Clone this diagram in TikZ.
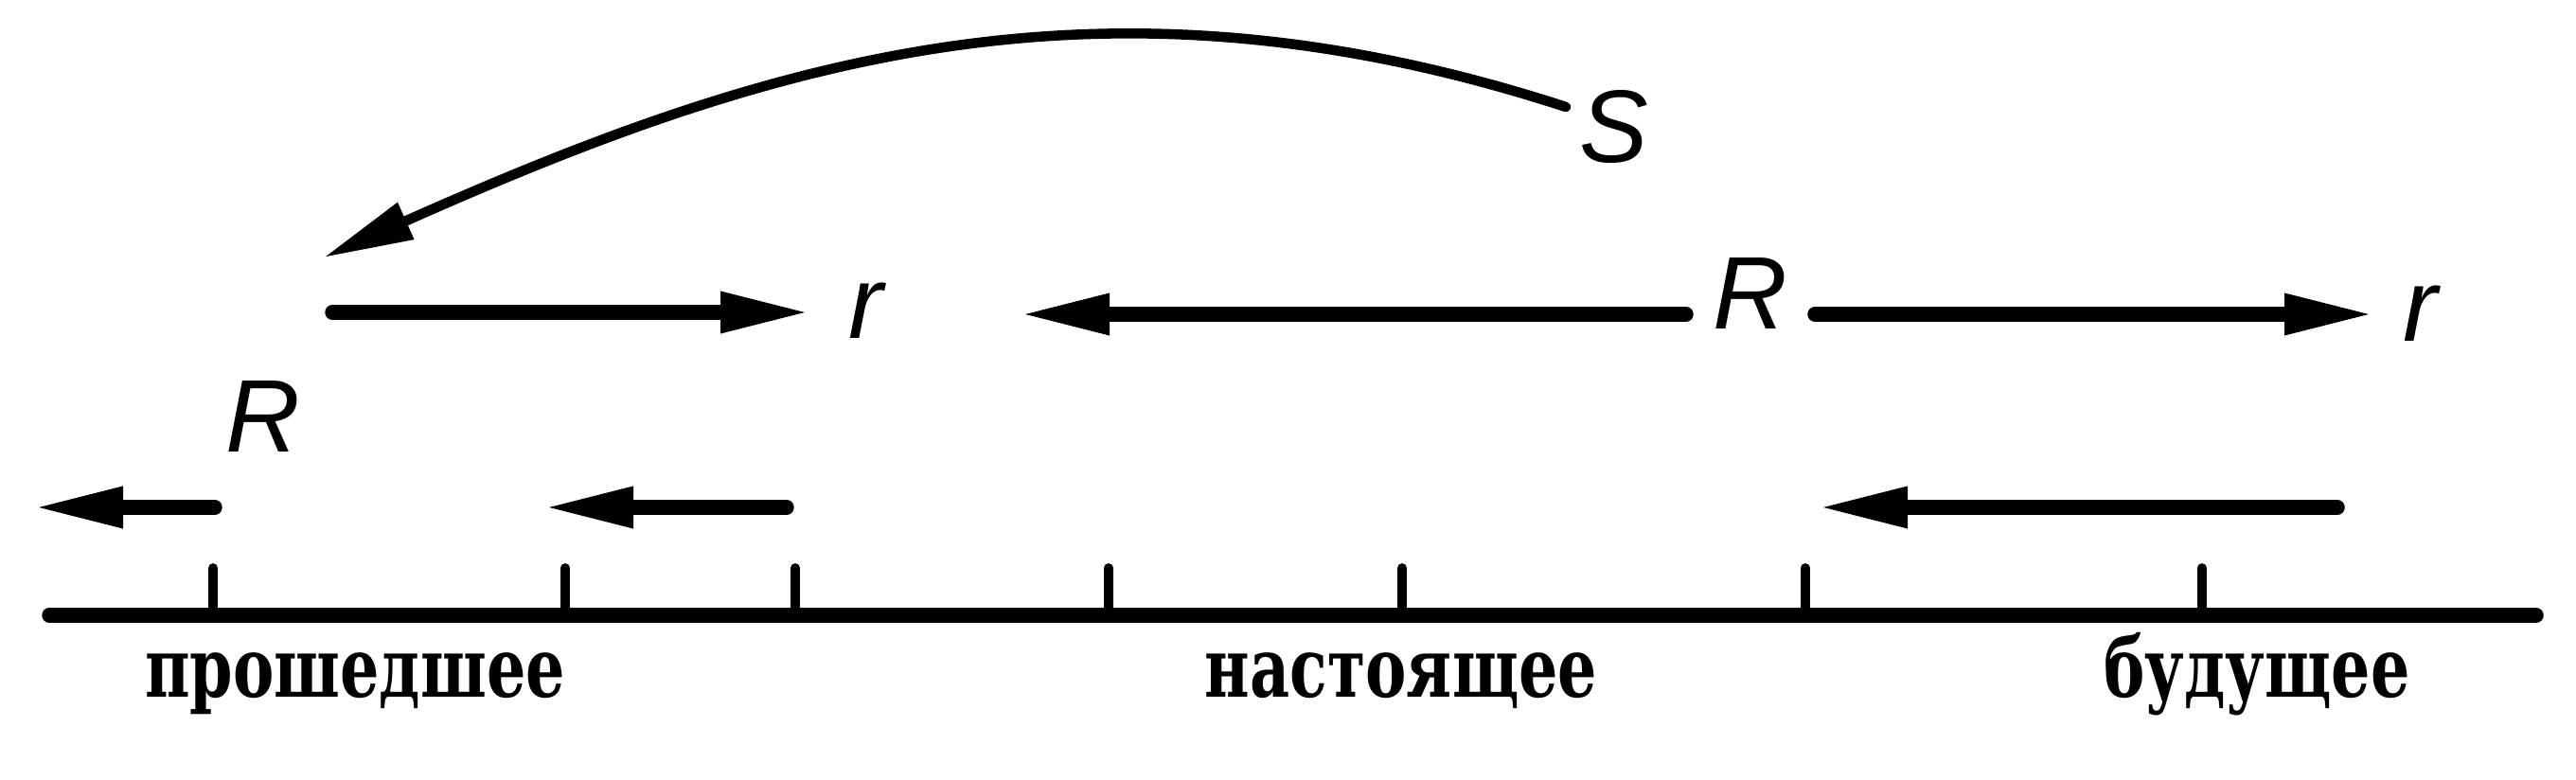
\documentclass[tikz,border=0pt]{standalone}
\usepackage{fontspec}
\newfontfamily\tagfont{Liberation Sans}
\newfontfamily\wordfont{DejaVu Serif}[FakeStretch=0.74]
\usetikzlibrary{arrows,arrows.meta}

\begin{document}
\begin{tikzpicture}[>={Triangle[length=9.5mm,width=4mm]},line cap=round]
  \tikzstyle{letter}=[font=\tagfont\itshape\fontsize{31}{33}\selectfont,inner sep=0pt]
  \tikzstyle{word}=[font=\wordfont\bfseries\fontsize{25}{27}\selectfont,anchor=base]
  \tikzstyle{arr}=[->,line width=4.4pt]
  \useasboundingbox (0,0) rectangle (27.21,8.24);

  \node[letter] (S)  at (17.05,6.90) {S};
  \node[letter] (Rm) at (18.49,5.14) {R};
  \node[letter] (Rl) at (2.78,3.84)  {R};
  \node[letter] (rl) at (9.15,4.96)  {r};
  \node[letter] (rr) at (25.57,4.93) {r};

  % upper row
  \coordinate (ul) at (3.51,4.94);
  \coordinate (um) at (10.77,4.92);
  \draw[arr] (ul) -- (8.56,4.94);
  \draw[arr] (17.81,4.92) -- (um);
  \draw[arr] (19.17,4.92) -- (25.08,4.92);

  % S goes back
  \coordinate (st) at (3.42,5.52);
  \draw[->,line width=3pt] (16.54,7.11) to[out=162,in=24] (st);

  % lower row
  \draw[arr] (2.27,2.88) -- (0.35,2.88);
  \draw[arr] (8.31,2.88) -- (5.74,2.88);
  \draw[arr] (24.69,2.88) -- (19.20,2.88);

  % time axis
  \coordinate (t0) at (0.52,1.74);
  \coordinate (t1) at (26.79,1.74);
  \draw[line width=4.4pt] (t0) -- (t1);
  \foreach \x in {2.25,5.97,8.40,11.71,14.81,19.07,23.26}
    \draw[line width=2.8pt] (\x,1.74) -- (\x,2.24);

  \node[word] (past)    at (3.75,0.87)  {прошедшее};
  \node[word] (present) at (14.80,0.87) {настоящее};
  \node[word] (future)  at (23.84,0.87) {будущее};
\end{tikzpicture}
\end{document}
